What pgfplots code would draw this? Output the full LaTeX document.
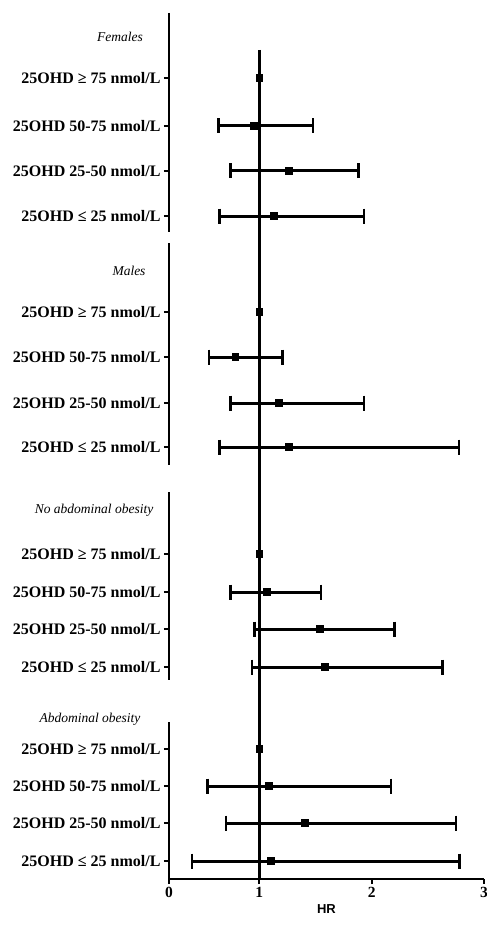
\documentclass[border=0pt]{standalone}
\usepackage{pgfplots}
\pgfplotsset{compat=1.18}
\usepackage{pgfplotstable}
\usepackage{fontspec}
\setmainfont{Liberation Serif}
\newfontfamily\hrfont{Liberation Sans}

% y = row position (top to bottom), hr = point estimate
\pgfplotstableread{
y hr
78  1.000
126 0.940
171 1.264
216 1.127
}\females
\pgfplotstableread{
y hr
312 1.000
357 0.733
403 1.172
447 1.264
}\males
\pgfplotstableread{
y hr
554 1.000
592 1.068
629 1.536
667 1.580
}\noobese
\pgfplotstableread{
y hr
749 1.000
786 1.083
823 1.403
861 1.104
}\obese

\tikzset{cistyle/.style={draw=black, line width=3bp, mark=|, mark size=7.5bp,
             mark options={draw=black, line width=2.6bp}}}

\begin{document}
\begin{tikzpicture}
\useasboundingbox (0,0) rectangle (487bp,925bp);
\begin{axis}[
  at={(169bp,46bp)}, anchor=south west,
  scale only axis, width=315bp, height=866bp,
  xmin=0, xmax=3, ymin=13, ymax=879, y dir=reverse,
  x coord trafo/.code={\pgfmathparse{(#1<1)?(0.80357*#1):(#1-0.19643)}},
  x coord inv trafo/.code={\pgfmathparse{(#1<0.80357)?(#1/0.80357):(#1+0.19643)}},
  axis x line=bottom, axis y line=left,
  x axis line style={-, line width=2.6bp},
  y axis line style={draw=none},
  xtick={0,1,2,3}, xticklabels={0,1,2,3},
  ytick={78,126,171,216,312,357,403,447,554,592,629,667,749,786,823,861},
  yticklabels={
    25OHD ≥ 75 nmol/L, 25OHD 50-75 nmol/L, 25OHD 25-50 nmol/L, 25OHD ≤ 25 nmol/L,
    25OHD ≥ 75 nmol/L, 25OHD 50-75 nmol/L, 25OHD 25-50 nmol/L, 25OHD ≤ 25 nmol/L,
    25OHD ≥ 75 nmol/L, 25OHD 50-75 nmol/L, 25OHD 25-50 nmol/L, 25OHD ≤ 25 nmol/L,
    25OHD ≥ 75 nmol/L, 25OHD 50-75 nmol/L, 25OHD 25-50 nmol/L, 25OHD ≤ 25 nmol/L},
  tick align=outside, major tick length=5bp,
  every tick/.style={line width=2.2bp, black},
  yticklabel style={font=\bfseries\fontsize{16bp}{18bp}\selectfont},
  xticklabel style={font=\bfseries\fontsize{15.5bp}{18bp}\selectfont},
  xlabel={HR},
  xlabel style={font=\hrfont\bfseries\fontsize{13bp}{15bp}\selectfont},
  clip=false,
]
% separate y-axis segments for the four panels
\draw[line width=2.6bp] (axis cs:0,13) -- (axis cs:0,232);
\draw[line width=2.6bp] (axis cs:0,243) -- (axis cs:0,465);
\draw[line width=2.6bp] (axis cs:0,492) -- (axis cs:0,680);
\draw[line width=2.6bp] (axis cs:0,722) -- (axis cs:0,880.3);

% reference line HR = 1
\addplot[black, line width=2.8bp] coordinates {(1,50) (1,879)};

% confidence intervals
\addplot[cistyle] coordinates {(0.548,126) (1.477,126)};
\addplot[cistyle] coordinates {(0.678,171) (1.883,171)};
\addplot[cistyle] coordinates {(0.559,216) (1.933,216)};

\addplot[cistyle] coordinates {(0.444,357) (1.207,357)};
\addplot[cistyle] coordinates {(0.678,403) (1.933,403)};
\addplot[cistyle] coordinates {(0.559,447) (2.778,447)};

\addplot[cistyle] coordinates {(0.678,592) (1.548,592)};
\addplot[cistyle] coordinates {(0.944,629) (2.203,629)};
\addplot[cistyle] coordinates {(0.918,667) (2.633,667)};

\addplot[cistyle] coordinates {(0.426,786) (2.173,786)};
\addplot[cistyle] coordinates {(0.633,823) (2.751,823)};
\addplot[cistyle] coordinates {(0.256,861) (2.781,861)};

% point estimates
\addplot[only marks, mark=square*, mark size=3.4bp, black] table[x=hr,y=y] {\females};
\addplot[only marks, mark=square*, mark size=3.4bp, black] table[x=hr,y=y] {\males};
\addplot[only marks, mark=square*, mark size=3.4bp, black] table[x=hr,y=y] {\noobese};
\addplot[only marks, mark=square*, mark size=3.4bp, black] table[x=hr,y=y] {\obese};
\end{axis}

% panel titles
\begin{scope}[every node/.style={font=\itshape\fontsize{13.5bp}{16bp}\selectfont}]
\node at (120bp,{925bp-37bp}) {Females};
\node at (129bp,{925bp-271bp}) {Males};
\node at (94bp,{925bp-510bp}) {No abdominal obesity};
\node at (90bp,{925bp-719bp}) {Abdominal obesity};
\end{scope}
\end{tikzpicture}
\end{document}
